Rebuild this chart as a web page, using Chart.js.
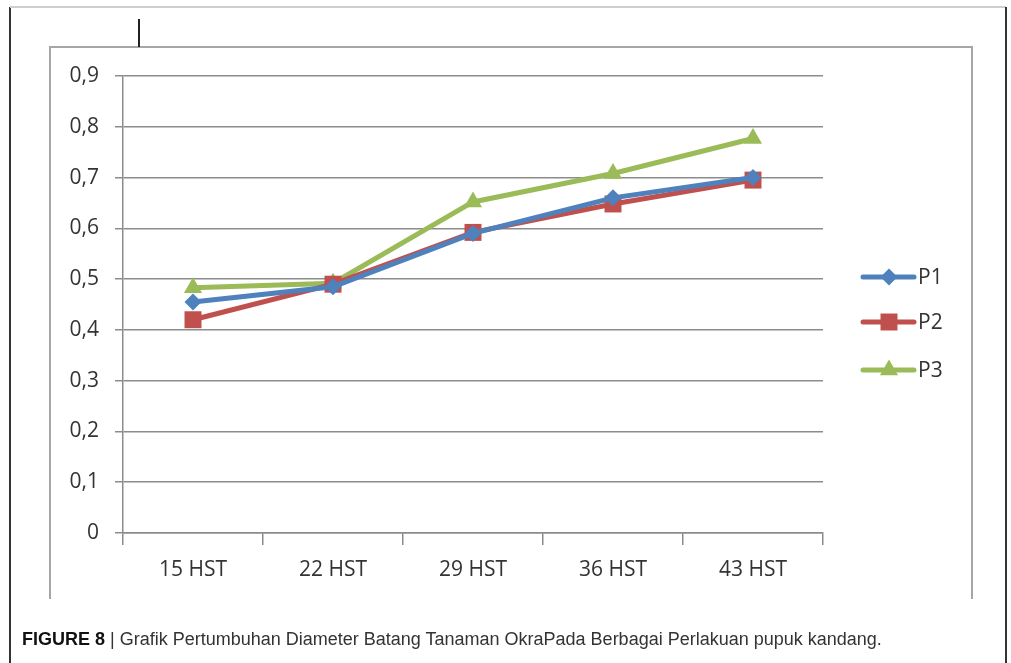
<!DOCTYPE html>
<html>
<head>
<meta charset="utf-8">
<script src="https://cdn.jsdelivr.net/npm/chart.js@4.4.1/dist/chart.umd.min.js"></script>
<style>
  html, body { margin: 0; padding: 0; background: #fff; }
  body { width: 1011px; height: 663px; position: relative; overflow: hidden; }
  #wrap { position: absolute; left: 0; top: 0; width: 1011px; height: 663px; }
  canvas { position: absolute; left: 0; top: 0; }
  .ln { position: absolute; }
  #caption { position: absolute; left: 22px; top: 629px; font-family: "Liberation Sans", Arial, sans-serif; font-size: 18px; color: #333; white-space: nowrap; }
  #caption b { color: #111; }
</style>
</head>
<body>
<div class="ln" style="left:9px;top:7px;width:2px;height:656px;background:#333;"></div>
<div class="ln" style="left:10px;top:6px;width:996px;height:2px;background:#cfcfcf;"></div>
<div class="ln" style="left:1005px;top:7px;width:2px;height:656px;background:#333;"></div>
<div class="ln" style="left:49px;top:46px;width:2px;height:553px;background:#a6a6a6;"></div>
<div class="ln" style="left:49px;top:46px;width:924px;height:2px;background:#a6a6a6;"></div>
<div class="ln" style="left:971px;top:46px;width:2px;height:553px;background:#a6a6a6;"></div>
<div class="ln" style="left:138px;top:19px;width:2px;height:28px;background:#222;"></div>
<div id="wrap"><canvas id="c" width="1011" height="663"></canvas></div>
<div id="caption"><b>FIGURE 8</b> | Grafik Pertumbuhan Diameter Batang Tanaman OkraPada Berbagai Perlakuan pupuk kandang.</div>
<script>
const categories = ["15 HST", "22 HST", "29 HST", "36 HST", "43 HST"];
const seriesNames = ["P1", "P2", "P3"];
const p1Values = [0.455, 0.485, 0.59, 0.66, 0.70];
const p2Values = [0.42, 0.49, 0.592, 0.648, 0.695];
const p3Values = [0.483, 0.492, 0.652, 0.708, 0.777];
const yTicks = [0, 0.1, 0.2, 0.3, 0.4, 0.5, 0.6, 0.7, 0.8, 0.9];

const colors = ["#4F81BD", "#C0504D", "#9BBB59"];
const styles = ["rectRot", "rect", "triangle"];
const radii = [8.5, 12, 10.5];
const values = [p1Values, p2Values, p3Values];

const FONT = "'Open Sans', 'Noto Sans', sans-serif";

const customLegend = {
  id: 'customLegend',
  afterDraw(chart) {
    const ctx = chart.ctx;
    const ys = [277, 322, 370];
    chart.data.datasets.forEach((ds, i) => {
      const y = ys[i];
      ctx.save();
      ctx.strokeStyle = ds.borderColor;
      ctx.lineWidth = 5;
      ctx.lineCap = 'round';
      ctx.beginPath();
      ctx.moveTo(863, y);
      ctx.lineTo(914, y);
      ctx.stroke();
      ctx.fillStyle = ds.pointBackgroundColor;
      ctx.beginPath();
      const r = ds.pointRadius;
      const x = 889;
      if (ds.pointStyle === 'rectRot') {
        ctx.moveTo(x, y - r); ctx.lineTo(x + r, y); ctx.lineTo(x, y + r); ctx.lineTo(x - r, y);
      } else if (ds.pointStyle === 'rect') {
        const s = r * Math.SQRT1_2;
        ctx.rect(x - s, y - s, 2 * s, 2 * s);
      } else {
        ctx.moveTo(x, y - r);
        ctx.lineTo(x + r * Math.sin(2 * Math.PI / 3), y - r * Math.cos(2 * Math.PI / 3));
        ctx.lineTo(x + r * Math.sin(4 * Math.PI / 3), y - r * Math.cos(4 * Math.PI / 3));
      }
      ctx.closePath();
      ctx.fill();
      ctx.fillStyle = '#333';
      ctx.font = "21px " + FONT;
      ctx.textBaseline = 'middle';
      ctx.textAlign = 'left';
      ctx.fillText(ds.label, 918, y + 1);
      ctx.restore();
    });
  }
};

new Chart(document.getElementById('c'), {
  type: 'line',
  data: {
    labels: categories,
    datasets: seriesNames.map((name, i) => ({
      label: name,
      data: values[i],
      borderColor: colors[i],
      backgroundColor: colors[i],
      pointBackgroundColor: colors[i],
      pointBorderColor: colors[i],
      pointBorderWidth: 0,
      borderWidth: 5,
      pointStyle: styles[i],
      pointRadius: radii[i],
      tension: 0,
      fill: false
    }))
  },
  options: {
    responsive: false,
    animation: false,
    events: [],
    layout: { padding: { left: 0, right: 188, top: 76, bottom: 70 } },
    plugins: { legend: { display: false }, tooltip: { enabled: false }, title: { display: false } },
    scales: {
      x: {
        type: 'category',
        offset: true,
        grid: { display: true, offset: true, drawOnChartArea: false, drawTicks: true, tickLength: 12, color: '#8c8c8c', lineWidth: 1.5 },
        border: { display: true, color: '#8c8c8c', width: 1.5 },
        ticks: { color: '#333', font: { family: FONT, size: 21 }, padding: 12, maxRotation: 0 },
        afterFit(s) { s.height = 60; }
      },
      y: {
        min: 0, max: 0.9,
        afterBuildTicks(s) { s.ticks = yTicks.map(v => ({ value: v })); },
        grid: { color: '#8c8c8c', lineWidth: 1.5, tickLength: 8, drawTicks: true },
        border: { display: true, color: '#8c8c8c', width: 1.5 },
        ticks: {
          color: '#333',
          font: { family: FONT, size: 21 },
          padding: 16,
          callback: (v) => v === 0 ? '0' : Number(v).toFixed(1).replace('.', ',')
        },
        afterFit(s) { s.width = 123; }
      }
    }
  },
  plugins: [customLegend]
});
</script>
</body>
</html>
